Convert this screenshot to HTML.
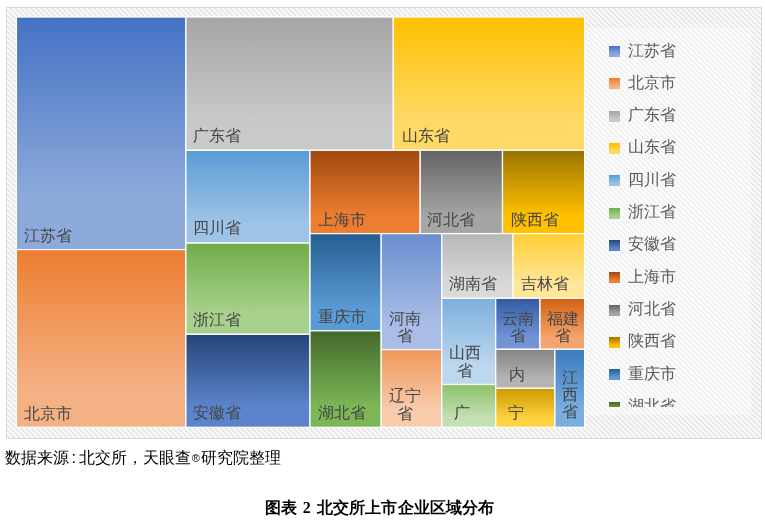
<!DOCTYPE html>
<html><head><meta charset="utf-8"><style>
*{-webkit-font-smoothing:antialiased}
html,body{margin:0;padding:0;background:#fff;width:765px;height:528px;overflow:hidden;position:relative;font-family:"Liberation Sans",sans-serif}
.frame{position:absolute;left:6px;top:7px;width:754px;height:430px;border:1px solid #d9d9d9;
background:repeating-linear-gradient(45deg,#fcfcfc 0px,#fcfcfc 0.4px,#e3e3e3 1.7px,#e3e3e3 2.0px,#fcfcfc 3.3px,#fcfcfc 3.71px)}
.legbox{position:absolute;left:586px;top:28px;width:165px;height:387px;background:rgba(255,255,255,0.4)}
.lb{position:absolute;text-align:center;font-size:16.0px;line-height:20px;color:#454545;font-weight:500;white-space:nowrap;will-change:transform}
.leg{position:absolute;left:586px;top:28px;width:165px;height:378.5px;overflow:hidden;will-change:transform}
.sq{position:absolute;left:23.4px;width:11px;height:11px}
.lt{position:absolute;left:42px;font-size:15.6px;line-height:20px;color:#595959;font-weight:500;white-space:nowrap}
.src{will-change:transform;position:absolute;left:5px;top:447px;font-size:16px;line-height:22px;color:#000;font-weight:350;white-space:nowrap}
.colon{display:inline-block;width:9.6px;text-align:center}
.reg{display:inline-block;width:10.4px;font-size:11px;vertical-align:1px;text-align:center}
.two{display:inline-block;font-family:'Liberation Serif',serif;margin:0 6px 0 5.5px}
.cap{will-change:transform;letter-spacing:0.13px;position:absolute;left:265px;top:496.5px;font-size:16px;line-height:22px;font-weight:bold;color:#000;white-space:nowrap}
</style></head><body>
<div class="frame"></div>
<div class="legbox"></div>
<svg width="765" height="528" viewBox="0 0 765 528" style="position:absolute;left:0;top:0">
<defs><linearGradient id="g0" x1="0" y1="0" x2="0" y2="1"><stop offset="0" stop-color="#4472C4"/><stop offset="0.78" stop-color="#8EAADB"/><stop offset="1" stop-color="#8EAADB"/></linearGradient><linearGradient id="g1" x1="0" y1="0" x2="0" y2="1"><stop offset="0" stop-color="#ED7D31"/><stop offset="0.78" stop-color="#F4B183"/><stop offset="1" stop-color="#F4B183"/></linearGradient><linearGradient id="g2" x1="0" y1="0" x2="0" y2="1"><stop offset="0" stop-color="#A5A5A5"/><stop offset="0.78" stop-color="#C9C9C9"/><stop offset="1" stop-color="#C9C9C9"/></linearGradient><linearGradient id="g3" x1="0" y1="0" x2="0" y2="1"><stop offset="0" stop-color="#FFC000"/><stop offset="0.78" stop-color="#FFD966"/><stop offset="1" stop-color="#FFD966"/></linearGradient><linearGradient id="g4" x1="0" y1="0" x2="0" y2="1"><stop offset="0" stop-color="#5B9BD5"/><stop offset="0.78" stop-color="#9DC3E6"/><stop offset="1" stop-color="#9DC3E6"/></linearGradient><linearGradient id="g5" x1="0" y1="0" x2="0" y2="1"><stop offset="0" stop-color="#70AD47"/><stop offset="0.78" stop-color="#A9D18E"/><stop offset="1" stop-color="#A9D18E"/></linearGradient><linearGradient id="g6" x1="0" y1="0" x2="0" y2="1"><stop offset="0" stop-color="#264478"/><stop offset="0.78" stop-color="#5B84CC"/><stop offset="1" stop-color="#5B84CC"/></linearGradient><linearGradient id="g7" x1="0" y1="0" x2="0" y2="1"><stop offset="0" stop-color="#9E480E"/><stop offset="0.78" stop-color="#ED7D31"/><stop offset="1" stop-color="#ED7D31"/></linearGradient><linearGradient id="g8" x1="0" y1="0" x2="0" y2="1"><stop offset="0" stop-color="#636363"/><stop offset="0.78" stop-color="#A5A5A5"/><stop offset="1" stop-color="#A5A5A5"/></linearGradient><linearGradient id="g9" x1="0" y1="0" x2="0" y2="1"><stop offset="0" stop-color="#997300"/><stop offset="0.78" stop-color="#FFC000"/><stop offset="1" stop-color="#FFC000"/></linearGradient><linearGradient id="g10" x1="0" y1="0" x2="0" y2="1"><stop offset="0" stop-color="#255E91"/><stop offset="0.78" stop-color="#5B9BD5"/><stop offset="1" stop-color="#5B9BD5"/></linearGradient><linearGradient id="g11" x1="0" y1="0" x2="0" y2="1"><stop offset="0" stop-color="#43682B"/><stop offset="0.78" stop-color="#7CB656"/><stop offset="1" stop-color="#7CB656"/></linearGradient><linearGradient id="g12" x1="0" y1="0" x2="0" y2="1"><stop offset="0" stop-color="#698ED0"/><stop offset="0.78" stop-color="#A9BDE6"/><stop offset="1" stop-color="#A9BDE6"/></linearGradient><linearGradient id="g13" x1="0" y1="0" x2="0" y2="1"><stop offset="0" stop-color="#F1975A"/><stop offset="0.78" stop-color="#F8CBAD"/><stop offset="1" stop-color="#F8CBAD"/></linearGradient><linearGradient id="g14" x1="0" y1="0" x2="0" y2="1"><stop offset="0" stop-color="#B7B7B7"/><stop offset="0.78" stop-color="#D9D9D9"/><stop offset="1" stop-color="#D9D9D9"/></linearGradient><linearGradient id="g15" x1="0" y1="0" x2="0" y2="1"><stop offset="0" stop-color="#FFCD33"/><stop offset="0.78" stop-color="#FFE699"/><stop offset="1" stop-color="#FFE699"/></linearGradient><linearGradient id="g16" x1="0" y1="0" x2="0" y2="1"><stop offset="0" stop-color="#7CAFDD"/><stop offset="0.78" stop-color="#BDD7EE"/><stop offset="1" stop-color="#BDD7EE"/></linearGradient><linearGradient id="g17" x1="0" y1="0" x2="0" y2="1"><stop offset="0" stop-color="#8CC168"/><stop offset="0.78" stop-color="#C5E0B4"/><stop offset="1" stop-color="#C5E0B4"/></linearGradient><linearGradient id="g18" x1="0" y1="0" x2="0" y2="1"><stop offset="0" stop-color="#335AA1"/><stop offset="0.78" stop-color="#7094D6"/><stop offset="1" stop-color="#7094D6"/></linearGradient><linearGradient id="g19" x1="0" y1="0" x2="0" y2="1"><stop offset="0" stop-color="#D26012"/><stop offset="0.78" stop-color="#F4A46E"/><stop offset="1" stop-color="#F4A46E"/></linearGradient><linearGradient id="g20" x1="0" y1="0" x2="0" y2="1"><stop offset="0" stop-color="#848484"/><stop offset="0.78" stop-color="#B5B5B5"/><stop offset="1" stop-color="#B5B5B5"/></linearGradient><linearGradient id="g21" x1="0" y1="0" x2="0" y2="1"><stop offset="0" stop-color="#CC9A00"/><stop offset="0.78" stop-color="#FFD23F"/><stop offset="1" stop-color="#FFD23F"/></linearGradient><linearGradient id="g22" x1="0" y1="0" x2="0" y2="1"><stop offset="0" stop-color="#3A7BBF"/><stop offset="0.78" stop-color="#7AAEDF"/><stop offset="1" stop-color="#7AAEDF"/></linearGradient></defs>
<rect x="16.40" y="17.00" width="169.50" height="232.60" fill="url(#g0)" stroke="#fff" stroke-width="1.25"/><rect x="16.40" y="249.60" width="169.50" height="177.70" fill="url(#g1)" stroke="#fff" stroke-width="1.25"/><rect x="185.90" y="17.00" width="207.40" height="133.30" fill="url(#g2)" stroke="#fff" stroke-width="1.25"/><rect x="393.30" y="17.00" width="191.30" height="133.30" fill="url(#g3)" stroke="#fff" stroke-width="1.25"/><rect x="185.90" y="150.30" width="124.10" height="92.80" fill="url(#g4)" stroke="#fff" stroke-width="1.25"/><rect x="185.90" y="243.10" width="124.10" height="91.20" fill="url(#g5)" stroke="#fff" stroke-width="1.25"/><rect x="185.90" y="334.30" width="124.10" height="93.00" fill="url(#g6)" stroke="#fff" stroke-width="1.25"/><rect x="310.00" y="150.30" width="110.20" height="83.30" fill="url(#g7)" stroke="#fff" stroke-width="1.25"/><rect x="420.20" y="150.30" width="82.30" height="83.30" fill="url(#g8)" stroke="#fff" stroke-width="1.25"/><rect x="502.50" y="150.30" width="82.10" height="83.30" fill="url(#g9)" stroke="#fff" stroke-width="1.25"/><rect x="310.00" y="233.60" width="71.20" height="97.20" fill="url(#g10)" stroke="#fff" stroke-width="1.25"/><rect x="310.00" y="330.80" width="71.20" height="96.50" fill="url(#g11)" stroke="#fff" stroke-width="1.25"/><rect x="381.20" y="233.60" width="60.60" height="116.00" fill="url(#g12)" stroke="#fff" stroke-width="1.25"/><rect x="381.20" y="349.60" width="60.60" height="77.70" fill="url(#g13)" stroke="#fff" stroke-width="1.25"/><rect x="441.80" y="233.60" width="71.20" height="64.70" fill="url(#g14)" stroke="#fff" stroke-width="1.25"/><rect x="513.00" y="233.60" width="71.60" height="64.70" fill="url(#g15)" stroke="#fff" stroke-width="1.25"/><rect x="441.80" y="298.30" width="53.90" height="86.20" fill="url(#g16)" stroke="#fff" stroke-width="1.25"/><rect x="441.80" y="384.50" width="53.90" height="42.80" fill="url(#g17)" stroke="#fff" stroke-width="1.25"/><rect x="495.70" y="298.30" width="44.30" height="51.00" fill="url(#g18)" stroke="#fff" stroke-width="1.25"/><rect x="540.00" y="298.30" width="44.60" height="51.00" fill="url(#g19)" stroke="#fff" stroke-width="1.25"/><rect x="495.70" y="349.30" width="59.20" height="39.00" fill="url(#g20)" stroke="#fff" stroke-width="1.25"/><rect x="495.70" y="388.30" width="59.20" height="39.00" fill="url(#g21)" stroke="#fff" stroke-width="1.25"/><rect x="554.90" y="349.30" width="29.70" height="78.00" fill="url(#g22)" stroke="#fff" stroke-width="1.25"/>
</svg>
<div class="lb" style="left:-101.90px;top:225.60px;width:300px">江苏省</div><div class="lb" style="left:-101.90px;top:403.50px;width:300px">北京市</div><div class="lb" style="left:66.65px;top:126.00px;width:300px">广东省</div><div class="lb" style="left:275.60px;top:126.20px;width:300px">山东省</div><div class="lb" style="left:67.20px;top:217.90px;width:300px">四川省</div><div class="lb" style="left:191.75px;top:209.50px;width:300px">上海市</div><div class="lb" style="left:301.45px;top:209.50px;width:300px">河北省</div><div class="lb" style="left:384.50px;top:209.50px;width:300px">陕西省</div><div class="lb" style="left:66.75px;top:310.40px;width:300px">浙江省</div><div class="lb" style="left:66.85px;top:403.10px;width:300px">安徽省</div><div class="lb" style="left:191.75px;top:306.50px;width:300px">重庆市</div><div class="lb" style="left:191.65px;top:403.30px;width:300px">湖北省</div><div class="lb" style="left:323.00px;top:274.10px;width:300px">湖南省</div><div class="lb" style="left:395.30px;top:274.10px;width:300px">吉林省</div><div class="lb" style="left:255.25px;top:309.20px;width:300px">河南</div><div class="lb" style="left:255.30px;top:325.90px;width:300px">省</div><div class="lb" style="left:255.25px;top:385.50px;width:300px">辽宁</div><div class="lb" style="left:255.30px;top:403.90px;width:300px">省</div><div class="lb" style="left:314.90px;top:342.50px;width:300px">山西</div><div class="lb" style="left:314.80px;top:360.90px;width:300px">省</div><div class="lb" style="left:368.40px;top:309.20px;width:300px">云南</div><div class="lb" style="left:368.30px;top:326.40px;width:300px">省</div><div class="lb" style="left:412.90px;top:308.90px;width:300px">福建</div><div class="lb" style="left:412.80px;top:326.40px;width:300px">省</div><div class="lb" style="left:420.40px;top:367.90px;width:300px">江</div><div class="lb" style="left:420.40px;top:385.00px;width:300px">西</div><div class="lb" style="left:420.40px;top:402.00px;width:300px">省</div><div class="lb" style="left:312.00px;top:403.40px;width:300px">广</div><div class="lb" style="left:366.50px;top:364.60px;width:300px">内</div><div class="lb" style="left:366.20px;top:403.40px;width:300px">宁</div>
<div class="leg"><div class="sq" style="top:18.00px;background:linear-gradient(#4472C4 0%,#8EAADB 78%,#8EAADB 100%)"></div><div class="lt" style="top:12.50px">江苏省</div><div class="sq" style="top:50.33px;background:linear-gradient(#ED7D31 0%,#F4B183 78%,#F4B183 100%)"></div><div class="lt" style="top:44.83px">北京市</div><div class="sq" style="top:82.66px;background:linear-gradient(#A5A5A5 0%,#C9C9C9 78%,#C9C9C9 100%)"></div><div class="lt" style="top:77.16px">广东省</div><div class="sq" style="top:114.99px;background:linear-gradient(#FFC000 0%,#FFD966 78%,#FFD966 100%)"></div><div class="lt" style="top:109.49px">山东省</div><div class="sq" style="top:147.32px;background:linear-gradient(#5B9BD5 0%,#9DC3E6 78%,#9DC3E6 100%)"></div><div class="lt" style="top:141.82px">四川省</div><div class="sq" style="top:179.65px;background:linear-gradient(#70AD47 0%,#A9D18E 78%,#A9D18E 100%)"></div><div class="lt" style="top:174.15px">浙江省</div><div class="sq" style="top:211.98px;background:linear-gradient(#264478 0%,#5B84CC 78%,#5B84CC 100%)"></div><div class="lt" style="top:206.48px">安徽省</div><div class="sq" style="top:244.31px;background:linear-gradient(#9E480E 0%,#ED7D31 78%,#ED7D31 100%)"></div><div class="lt" style="top:238.81px">上海市</div><div class="sq" style="top:276.64px;background:linear-gradient(#636363 0%,#A5A5A5 78%,#A5A5A5 100%)"></div><div class="lt" style="top:271.14px">河北省</div><div class="sq" style="top:308.97px;background:linear-gradient(#997300 0%,#FFC000 78%,#FFC000 100%)"></div><div class="lt" style="top:303.47px">陕西省</div><div class="sq" style="top:341.30px;background:linear-gradient(#255E91 0%,#5B9BD5 78%,#5B9BD5 100%)"></div><div class="lt" style="top:335.80px">重庆市</div><div class="sq" style="top:373.63px;background:linear-gradient(#43682B 0%,#7CB656 78%,#7CB656 100%)"></div><div class="lt" style="top:368.13px">湖北省</div></div>
<div class="src">数据来源<span class="colon">:</span>北交所，天眼查<span class="reg">®</span>研究院整理</div>
<div class="cap">图表<span class="two">2</span>北交所上市企业区域分布</div>
</body></html>
